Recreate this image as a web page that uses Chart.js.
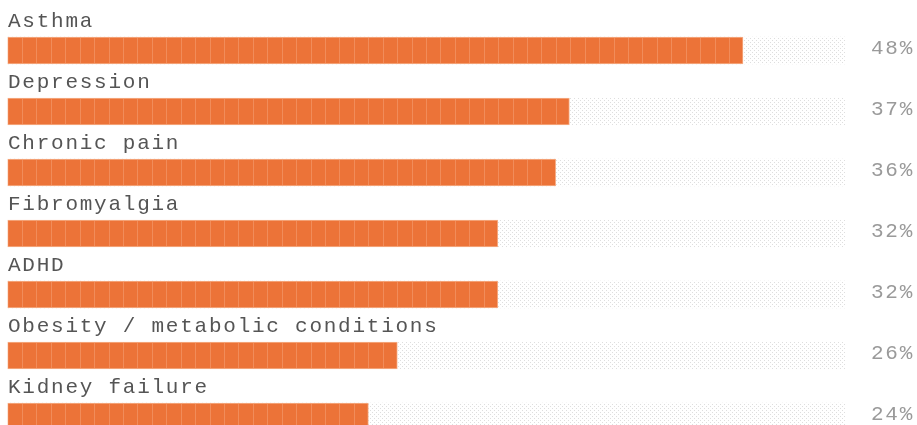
<!DOCTYPE html>
<html>
<head>
<meta charset="utf-8">
<script src="https://cdn.jsdelivr.net/npm/chart.js@4"></script>
<style>
  html, body { margin: 0; padding: 0; background: #fff; overflow: hidden; }
  #wrap { width: 917px; height: 425px; overflow: hidden; }
</style>
</head>
<body>
<div id="wrap"><canvas id="myChart" width="917" height="447"></canvas></div>
<script>
// data (bar lengths, labels show them rounded)
var conditions = ['Asthma', 'Depression', 'Chronic pain', 'Fibromyalgia', 'ADHD', 'Obesity / metabolic conditions', 'Kidney failure'];
var shares = [48.3, 36.9, 36.0, 32.2, 32.2, 25.6, 23.7];
var trackMax = 55;

var FONT = '"Liberation Mono", "DejaVu Sans Mono", monospace';

// dotted grey pattern for the empty track
function dotPattern() {
  var c = document.createElement('canvas');
  c.width = 4; c.height = 4;
  var g = c.getContext('2d');
  g.fillStyle = '#fff';
  g.fillRect(0, 0, 4, 4);
  g.fillStyle = '#dedede';
  g.fillRect(0, 0, 1, 1);
  g.fillRect(2, 2, 1, 1);
  return g.createPattern(c, 'repeat');
}

var labelsPlugin = {
  id: 'rowLabels',
  afterDatasetsDraw: function(chart) {
    var ctx = chart.ctx;
    var meta = chart.getDatasetMeta(0);
    ctx.save();
    // thin segment lines inside the orange bars
    ctx.strokeStyle = 'rgba(255,205,180,0.28)';
    ctx.lineWidth = 1;
    meta.data.forEach(function(bar) {
      var top = bar.y - bar.height / 2, bot = bar.y + bar.height / 2;
      for (var x = bar.base + 14.43; x < bar.x - 3; x += 14.43) {
        ctx.beginPath();
        ctx.moveTo(Math.round(x) + 0.5, top + 1);
        ctx.lineTo(Math.round(x) + 0.5, bot - 1);
        ctx.stroke();
      }
    });
    // category text above, percent at right
    ctx.font = '21px ' + FONT;
    ctx.letterSpacing = '1.75px';
    meta.data.forEach(function(bar, i) {
      var top = bar.y - bar.height / 2;
      ctx.fillStyle = '#555';
      ctx.textAlign = 'left';
      ctx.fillText(conditions[i], 8, top - 10);
      ctx.fillStyle = '#9a9a9a';
      ctx.textAlign = 'right';
      ctx.fillText(Math.round(shares[i]) + '%', 914, top + 17);
    });
    ctx.restore();
  }
};

var ctx = document.getElementById('myChart').getContext('2d');
var myChart = new Chart(ctx, {
  type: 'bar',
  data: {
    labels: conditions,
    datasets: [{
      data: shares,
      backgroundColor: '#ec7338',
      borderColor: '#f6b08a',
      borderWidth: 1,
      borderSkipped: false,
      barThickness: 27,
      grouped: false,
      order: 0
    }, {
      data: conditions.map(function() { return trackMax; }),
      backgroundColor: dotPattern(),
      borderWidth: 0,
      barThickness: 27,
      grouped: false,
      order: 1
    }]
  },
  options: {
    indexAxis: 'y',
    responsive: false,
    animation: false,
    layout: { padding: { left: 7.5, right: 72, top: 20, bottom: 0 } },
    scales: {
      x: { display: false, min: 0, max: trackMax },
      y: { display: false }
    },
    plugins: { legend: { display: false }, tooltip: { enabled: false } }
  },
  plugins: [labelsPlugin]
});
</script>
</body>
</html>
